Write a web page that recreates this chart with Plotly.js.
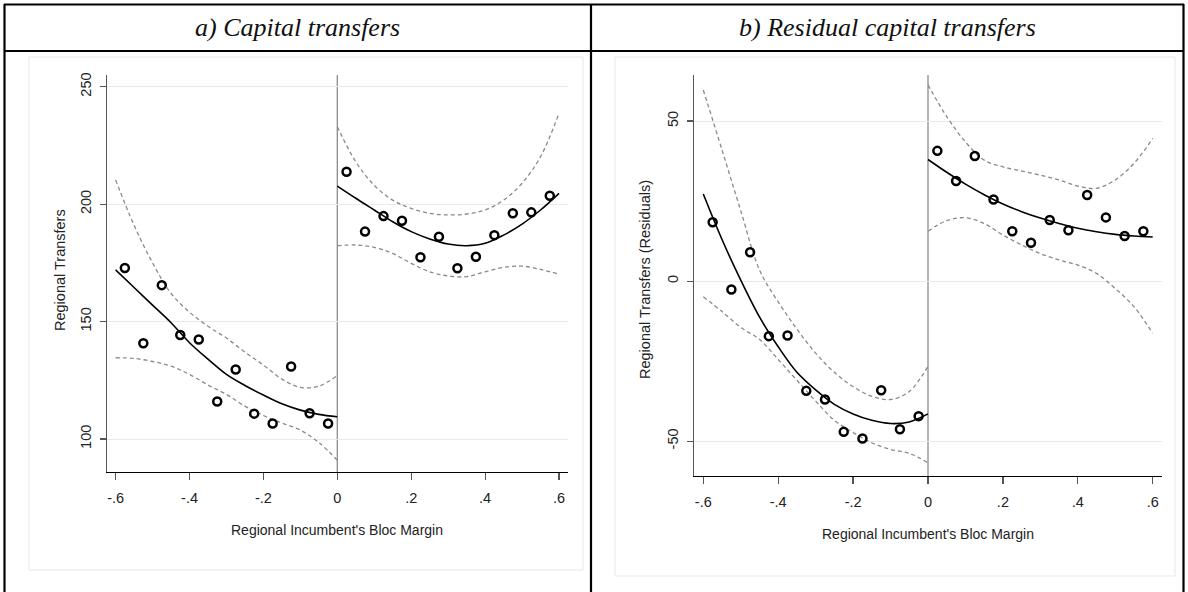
<!DOCTYPE html>
<html>
<head>
<meta charset="utf-8">
<script src="https://cdn.plot.ly/plotly-3.0.1.min.js"></script>
<style>
  html, body { margin: 0; padding: 0; background: #fff; }
  #chart { width: 1188px; height: 592px; }
</style>
</head>
<body>
<div id="chart"></div>
<script>
// ---------- DATA ----------
// bin centres of the scatter (left / right of the cutoff)
const binsLeft  = [-0.575, -0.525, -0.475, -0.425, -0.375, -0.325, -0.275, -0.225, -0.175, -0.125, -0.075, -0.025];
const binsRight = [0.025, 0.075, 0.125, 0.175, 0.225, 0.275, 0.325, 0.375, 0.425, 0.475, 0.525, 0.575];
// grid on which the fitted curves and the confidence bands were read
const gridLeft  = [-0.6, -0.55, -0.5, -0.45, -0.4, -0.35, -0.3, -0.25, -0.2, -0.15, -0.1, -0.05, 0];
const gridRight = [0, 0.05, 0.1, 0.15, 0.2, 0.25, 0.3, 0.35, 0.4, 0.45, 0.5, 0.55, 0.6];

// a) Capital transfers
const capPtsL = [172.8, 140.8, 165.5, 144.3, 142.4, 116.0, 129.6, 110.8, 106.6, 130.9, 111.0, 106.6];
const capPtsR = [213.8, 188.3, 194.9, 192.9, 177.4, 186.1, 172.7, 177.6, 186.8, 196.1, 196.5, 203.6];
const capFitL = [172.0, 164.5, 157.0, 149.5, 141.0, 134.0, 127.5, 122.8, 118.7, 115.0, 112.3, 110.5, 109.5];
const capFitR = [207.7, 202.5, 197.5, 192.5, 188.3, 185.2, 183.0, 182.3, 183.3, 186.8, 191.5, 197.5, 204.6];
const capUpL  = [210.3, 191.0, 175.0, 162.0, 154.0, 148.0, 143.0, 137.0, 131.5, 125.5, 122.0, 122.5, 127.0];
const capLoL  = [134.6, 134.3, 133.0, 131.0, 127.5, 123.0, 119.0, 114.0, 110.0, 106.8, 103.8, 98.5, 91.0];
const capUpR  = [233.0, 218.0, 208.0, 201.7, 198.2, 196.1, 195.4, 195.8, 197.5, 201.7, 208.9, 220.2, 238.7];
const capLoR  = [182.3, 182.6, 181.6, 179.0, 174.8, 171.2, 169.4, 169.1, 171.2, 173.1, 173.6, 172.2, 170.2];

// b) Residual capital transfers
const resPtsL = [18.4, -2.6, 9.0, -17.2, -17.0, -34.3, -37.0, -47.1, -49.2, -34.1, -46.3, -42.2];
const resPtsR = [40.7, 31.3, 39.1, 25.5, 15.6, 12.0, 19.1, 15.9, 26.9, 19.9, 14.1, 15.6];
const resFitL = [27.2, 13.0, 0.3, -11.2, -20.5, -28.5, -34.0, -38.5, -41.5, -43.5, -44.5, -44.0, -41.5];
const resFitR = [38.0, 34.0, 30.3, 27.0, 24.1, 21.7, 19.7, 18.0, 16.5, 15.4, 14.6, 14.1, 13.8];
const resUpL  = [59.7, 41.0, 22.0, 3.5, -6.5, -15.0, -22.5, -28.5, -33.0, -36.0, -37.0, -34.5, -26.6];
const resLoL  = [-4.9, -9.5, -14.5, -18.2, -24.5, -31.0, -37.5, -43.5, -47.3, -50.5, -52.6, -53.8, -56.8];
const resUpR  = [61.3, 51.4, 43.5, 37.8, 35.7, 34.4, 33.1, 31.6, 29.7, 29.0, 31.6, 36.8, 44.6];
const resLoR  = [15.6, 18.9, 19.8, 18.0, 14.4, 11.3, 8.6, 6.6, 5.0, 2.4, -2.3, -8.0, -16.3];

// ticks and texts
const xTickVals = [-0.6, -0.4, -0.2, 0, 0.2, 0.4, 0.6];
const xTickText = ['-.6', '-.4', '-.2', '0', '.2', '.4', '.6'];
const capYTicks = [100, 150, 200, 250];
const resYTicks = [-50, 0, 50];
const panelTitles = ['a) Capital transfers', 'b) Residual capital transfers'];
const xTitle = "Regional Incumbent's Bloc Margin";
const yTitles = ['Regional Transfers', 'Regional Transfers (Residuals)'];

// ---------- STYLES ----------
const W = 1188, H = 592;
const tickFont = {family: 'Liberation Sans, Arial, sans-serif', size: 14.5, color: '#222'};
const titleFont = {family: 'Liberation Sans, Arial, sans-serif', size: 14, color: '#222'};
const yTitleFont = {family: 'Liberation Sans, Arial, sans-serif', size: 14.5, color: '#222'};
const ciLine = {color: '#8a8a8a', width: 1.3, dash: '4px,3px', shape: 'spline', smoothing: 1};
const fitLine = {color: '#000', width: 1.6, shape: 'spline', smoothing: 1};
const mk = {symbol: 'circle-open', size: 8, color: '#000', line: {width: 2.5, color: '#000'}};

function line(x, y, l, xa, ya) {
  return {x: x, y: y, mode: 'lines', line: l, xaxis: xa, yaxis: ya, hoverinfo: 'skip', showlegend: false};
}
function pts(x, y, xa, ya) {
  return {x: x, y: y, mode: 'markers', marker: mk, xaxis: xa, yaxis: ya, showlegend: false};
}

const data = [
  line(gridLeft, capUpL, ciLine, 'x', 'y'),
  line(gridLeft, capLoL, ciLine, 'x', 'y'),
  line(gridRight, capUpR, ciLine, 'x', 'y'),
  line(gridRight, capLoR, ciLine, 'x', 'y'),
  line(gridLeft, capFitL, fitLine, 'x', 'y'),
  line(gridRight, capFitR, fitLine, 'x', 'y'),
  pts(binsLeft, capPtsL, 'x', 'y'),
  pts(binsRight, capPtsR, 'x', 'y'),

  line(gridLeft, resUpL, ciLine, 'x2', 'y2'),
  line(gridLeft, resLoL, ciLine, 'x2', 'y2'),
  line(gridRight, resUpR, ciLine, 'x2', 'y2'),
  line(gridRight, resLoR, ciLine, 'x2', 'y2'),
  line(gridLeft, resFitL, fitLine, 'x2', 'y2'),
  line(gridRight, resFitR, fitLine, 'x2', 'y2'),
  pts(binsLeft, resPtsL, 'x2', 'y2'),
  pts(binsRight, resPtsR, 'x2', 'y2')
];

const px = v => v / W;
const py = v => 1 - v / H;

function xAxis(domain, range, anchor) {
  return {
    domain: domain, range: range, anchor: anchor,
    showline: true, linecolor: '#000', linewidth: 1.3,
    ticks: 'outside', ticklen: 7, tickwidth: 1.2, tickcolor: '#555', ticklabelstandoff: 5,
    tickvals: xTickVals, ticktext: xTickText, tickfont: tickFont,
    showgrid: false, zeroline: false, fixedrange: true
  };
}
function yAxis(domain, range, anchor, tv) {
  return {
    domain: domain, range: range, anchor: anchor,
    showline: true, linecolor: '#555', linewidth: 1.3,
    ticks: 'outside', ticklen: 6, tickwidth: 1.2, tickcolor: '#555', ticklabelstandoff: 3,
    tickvals: tv, ticktext: tv.map(String), tickangle: -90, tickfont: tickFont,
    showgrid: true, gridcolor: '#e2ecee', gridwidth: 1, zeroline: false, fixedrange: true
  };
}

const border = {color: '#000', width: 2.2};
const titleStyle = {family: 'Liberation Serif, Times New Roman, serif', size: 26, style: 'italic', color: '#111'};
const layout = {
  width: W, height: H,
  margin: {l: 0, r: 0, t: 0, b: 0, pad: 0},
  paper_bgcolor: '#fff', plot_bgcolor: 'rgba(0,0,0,0)',
  showlegend: false,
  xaxis:  xAxis([px(107), px(567.7)], [-0.6233, 0.6235], 'y'),
  yaxis:  yAxis([py(472), py(75)], [85.95, 254.98], 'x', capYTicks),
  xaxis2: xAxis([px(694), px(1161.7)], [-0.6248, 0.624], 'y2'),
  yaxis2: yAxis([py(476), py(75)], [-60.9, 64.4], 'x2', resYTicks),
  shapes: [
    // Stata graph-region frames
    {type: 'rect', xref: 'paper', yref: 'paper', x0: px(29), x1: px(583), y0: py(570), y1: py(57),
     line: {color: '#dfe9ea', width: 1}, fillcolor: 'rgba(0,0,0,0)', layer: 'below'},
    {type: 'rect', xref: 'paper', yref: 'paper', x0: px(615), x1: px(1175), y0: py(576), y1: py(57),
     line: {color: '#dfe9ea', width: 1}, fillcolor: 'rgba(0,0,0,0)', layer: 'below'},
    // cutoff lines at zero
    {type: 'line', xref: 'x', yref: 'y domain', x0: 0, x1: 0, y0: 0, y1: 1, line: {color: '#8c8c8c', width: 1.3}, layer: 'below'},
    {type: 'line', xref: 'x2', yref: 'y2 domain', x0: 0, x1: 0, y0: 0, y1: 1, line: {color: '#8c8c8c', width: 1.3}, layer: 'below'},
    // table borders
    {type: 'line', xref: 'paper', yref: 'paper', x0: px(4), x1: px(1184), y0: py(4.5), y1: py(4.5), line: border},
    {type: 'line', xref: 'paper', yref: 'paper', x0: px(4), x1: px(1184), y0: py(51), y1: py(51), line: border},
    {type: 'line', xref: 'paper', yref: 'paper', x0: px(4.5), x1: px(4.5), y0: py(4), y1: py(592), line: border},
    {type: 'line', xref: 'paper', yref: 'paper', x0: px(1183.5), x1: px(1183.5), y0: py(4), y1: py(592), line: border},
    {type: 'line', xref: 'paper', yref: 'paper', x0: px(591), x1: px(591), y0: py(4), y1: py(592), line: border}
  ],
  annotations: [
    {text: panelTitles[0], xref: 'paper', yref: 'paper', x: px(297.5), y: py(28), xanchor: 'center', yanchor: 'middle',
     showarrow: false, font: titleStyle},
    {text: panelTitles[1], xref: 'paper', yref: 'paper', x: px(887.5), y: py(28), xanchor: 'center', yanchor: 'middle',
     showarrow: false, font: titleStyle},
    {text: xTitle, xref: 'paper', yref: 'paper', x: px(337.4), y: py(530), xanchor: 'center', yanchor: 'middle',
     showarrow: false, font: titleFont},
    {text: xTitle, xref: 'paper', yref: 'paper', x: px(927.9), y: py(534), xanchor: 'center', yanchor: 'middle',
     showarrow: false, font: titleFont},
    {text: yTitles[0], xref: 'paper', yref: 'paper', x: px(60), y: py(270), xanchor: 'center', yanchor: 'middle',
     textangle: -90, showarrow: false, font: yTitleFont},
    {text: yTitles[1], xref: 'paper', yref: 'paper', x: px(645), y: py(280), xanchor: 'center', yanchor: 'middle',
     textangle: -90, showarrow: false, font: yTitleFont}
  ]
};

Plotly.newPlot('chart', data, layout, {displayModeBar: false, staticPlot: true});
</script>
</body>
</html>
